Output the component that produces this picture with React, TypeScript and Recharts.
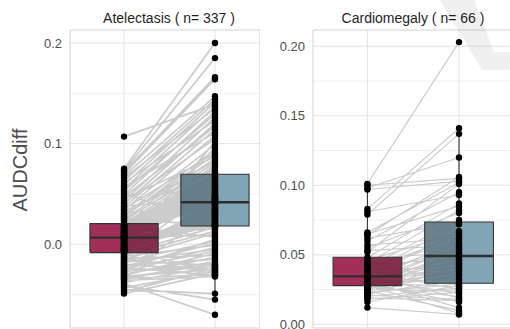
import React from 'react';
import { ComposedChart, Line, Area, Scatter, XAxis, YAxis, CartesianGrid, ReferenceArea } from 'recharts';

// ---------- data ----------
const atelBaseline = [
  0.107, 0.075, 0.073, 0.072, 0.070, 0.068, 0.066, 0.063, 0.061, 0.059, 0.057, 0.055, 0.053, 0.051, 0.049, 0.047, 0.045, 0.043, 0.041, 0.040, 0.038, 0.037, 0.035, 0.034, 0.033, 0.031, 0.030, 0.029, 0.028, 0.027, 0.026, 0.025, 0.024, 0.023, 0.021,
  0.020, 0.020, 0.019, 0.019, 0.018, 0.018, 0.017, 0.017, 0.016, 0.016, 0.015, 0.015, 0.014, 0.014, 0.013, 0.013, 0.012, 0.012, 0.012, 0.011, 0.011, 0.010, 0.010, 0.010, 0.009, 0.009, 0.009, 0.008, 0.008, 0.008, 0.007, 0.007, 0.007, 0.007, 0.006,
  0.006, 0.006, 0.005, 0.005, 0.004, 0.004, 0.003, 0.003, 0.002, 0.002, 0.001, 0.001, 0.000, 0.000, -0.001, -0.001, -0.002, -0.002, -0.003, -0.003, -0.003, -0.004, -0.004, -0.004, -0.005, -0.005, -0.005, -0.006, -0.006, -0.006, -0.007, -0.007, -0.007, -0.008, -0.008,
  -0.009, -0.010, -0.011, -0.012, -0.013, -0.014, -0.015, -0.016, -0.017, -0.018, -0.019, -0.020, -0.021, -0.022, -0.023, -0.024, -0.025, -0.026, -0.027, -0.028, -0.029, -0.030, -0.031, -0.032, -0.033, -0.034, -0.035, -0.036, -0.038, -0.039, -0.041, -0.043, -0.045, -0.047, -0.049,
];
const atelFollowUp = [
  0.139, 0.200, 0.185, 0.166, 0.164, 0.147, 0.135, 0.144, 0.123, 0.141, 0.111, 0.137, 0.129, 0.018, 0.132, 0.117, 0.087, 0.126, 0.105, 0.120, 0.045, 0.114, 0.091, 0.108, 0.073, 0.040, 0.083, 0.099, 0.089, 0.094, 0.018, 0.085, 0.077, 0.081, 0.075,
  0.070, 0.065, 0.068, 0.061, 0.069, 0.007, 0.067, 0.050, 0.063, 0.059, 0.066, 0.046, 0.054, 0.062, 0.015, 0.058, 0.064, 0.048, 0.052, 0.060, 0.079, 0.055, 0.042, 0.057, 0.047, 0.051, 0.044, 0.053, 0.043, 0.049, 0.009, 0.042, 0.047, 0.045, 0.043,
  0.071, 0.020, 0.024, 0.018, 0.022, 0.025, 0.019, 0.028, 0.020, 0.027, 0.023, 0.031, 0.096, 0.030, 0.021, 0.033, 0.027, 0.024, 0.036, 0.032, 0.019, 0.035, 0.029, 0.022, 0.038, -0.028, 0.036, 0.026, 0.039, 0.030, 0.102, 0.034, 0.040, 0.037, 0.041,
  0.017, 0.056, 0.013, -0.001, 0.044, -0.011, 0.011, -0.021, 0.003, -0.005, 0.046, -0.026, -0.015, 0.001, -0.031, -0.007, 0.005, -0.023, -0.019, -0.003, 0.033, -0.013, -0.009, -0.025, -0.020, -0.030, -0.017, -0.032, -0.022, -0.070, -0.055, -0.027, -0.049, -0.024, -0.029,
];
const cardBaseline = [
  0.101, 0.100, 0.098, 0.097, 0.083, 0.081, 0.079, 0.066, 0.065, 0.064, 0.062, 0.060, 0.057, 0.055, 0.053, 0.052,
  0.048, 0.047, 0.046, 0.045, 0.044, 0.043, 0.042, 0.041, 0.040, 0.039, 0.038, 0.037, 0.037, 0.036, 0.035, 0.035, 0.034,
  0.034, 0.033, 0.033, 0.032, 0.032, 0.031, 0.031, 0.030, 0.030, 0.030, 0.029, 0.029, 0.029, 0.028, 0.028, 0.028,
  0.027, 0.027, 0.026, 0.026, 0.025, 0.025, 0.024, 0.023, 0.023, 0.022, 0.021, 0.021, 0.020, 0.019, 0.018, 0.016, 0.012,
];
const cardFollowUp = [
  0.203, 0.105, 0.120, 0.103, 0.141, 0.093, 0.137, 0.102, 0.085, 0.106, 0.073, 0.095, 0.062, 0.080, 0.057, 0.101,
  0.087, 0.052, 0.066, 0.030, 0.082, 0.047, 0.059, 0.075, 0.040, 0.064, 0.025, 0.054, 0.072, 0.044, 0.019, 0.058, 0.036,
  0.067, 0.048, 0.022, 0.055, 0.041, 0.012, 0.061, 0.033, 0.050, 0.027, 0.046, 0.016, 0.056, 0.038, 0.008, 0.043,
  0.053, 0.020, 0.035, 0.051, 0.024, 0.039, 0.010, 0.045, 0.029, 0.032, 0.018, 0.042, 0.026, 0.017, 0.023, 0.028, 0.007,
];

// box statistics: [lower whisker, q1, median, q3, upper whisker]
const atelBoxBaseline = [-0.049, -0.0083, 0.0066, 0.0205, 0.075];
const atelBoxFollowUp = [-0.054, 0.0182, 0.0417, 0.0695, 0.147];
const cardBoxBaseline = [0.012, 0.0278, 0.0345, 0.0482, 0.101];
const cardBoxFollowUp = [0.007, 0.0295, 0.0491, 0.0736, 0.141];

const atelTicks = [0, 0.1, 0.2];
const atelMinor = [-0.05, 0.05, 0.15];
const cardTicks = [0, 0.05, 0.1, 0.15, 0.2];
const cardMinor = [0.025, 0.075, 0.125, 0.175];

const panelTitles = ['Atelectasis ( n= 337 )', 'Cardiomegaly ( n= 66 )'];
const yTitle = 'AUDCdiff';

// ---------- styling ----------
const FONT = '"Liberation Sans", Arial, Helvetica, sans-serif';
const BASE_X = 1;
const FOLLOW_X = 2;
const HALF = 0.375;
const RED_LIGHT = '#9c2451';
const RED_DARK = '#781c3e';
const BLUE_LIGHT = '#7aa0b0';
const BLUE_DARK = '#5a7682';

type PanelProps = {
  before: number[];
  after: number[];
  boxBase: number[];
  boxFollow: number[];
  ticks: number[];
  minor: number[];
  digits: number;
  xDomain: [number, number];
  yDomain: [number, number];
  width: number;
  yAxisWidth: number;
  pairWidth: number;
};

function Panel(p: PanelProps) {
  const pairs: { x: number; y: number | null }[] = [];
  p.before.forEach((b, i) => {
    pairs.push({ x: BASE_X, y: b });
    pairs.push({ x: FOLLOW_X, y: p.after[i] });
    pairs.push({ x: FOLLOW_X, y: null });
  });
  const points = [
    ...p.before.map((v) => ({ x: BASE_X, y: v })),
    ...p.after.map((v) => ({ x: FOLLOW_X, y: v })),
  ];
  const half = (c: number, from: number, to: number, s: number[]) => [
    { x: c + from, r: [s[1], s[3]] },
    { x: c + to, r: [s[1], s[3]] },
  ];
  const outline = (c: number, s: number[]) => [
    { x: c - HALF, y: s[1] },
    { x: c - HALF, y: s[3] },
    { x: c + HALF, y: s[3] },
    { x: c + HALF, y: s[1] },
    { x: c - HALF, y: s[1] },
    { x: c - HALF, y: null },
    { x: c, y: s[3] },
    { x: c, y: s[4] },
    { x: c, y: null },
    { x: c, y: s[1] },
    { x: c, y: s[0] },
    { x: c, y: null },
  ];
  const medians = [
    { x: BASE_X - HALF, y: p.boxBase[2] },
    { x: BASE_X + HALF, y: p.boxBase[2] },
    { x: BASE_X + HALF, y: null },
    { x: FOLLOW_X - HALF, y: p.boxFollow[2] },
    { x: FOLLOW_X + HALF, y: p.boxFollow[2] },
  ];

  return (
    <ComposedChart
      width={p.width}
      height={329}
      margin={{ top: 30, right: 0, bottom: 1, left: 0 }}
    >
      <CartesianGrid horizontalValues={p.minor} vertical={false} stroke="#f0f0f0" />
      <CartesianGrid horizontalValues={p.ticks} verticalValues={[BASE_X, FOLLOW_X]} stroke="#e3e3e3" />
      <XAxis
        type="number"
        dataKey="x"
        domain={p.xDomain}
        allowDataOverflow
        ticks={[BASE_X, FOLLOW_X]}
        hide
      />
      <YAxis
        type="number"
        dataKey="y"
        domain={p.yDomain}
        allowDataOverflow
        ticks={p.ticks}
        interval={0}
        width={p.yAxisWidth}
        axisLine={false}
        tickLine={false}
        tickFormatter={(v: number) => v.toFixed(p.digits)}
        tick={{ fill: '#4d4d4d', fontSize: 13, fontFamily: FONT }}
      />
      <ReferenceArea
        x1={p.xDomain[0]}
        x2={p.xDomain[1]}
        y1={p.yDomain[0]}
        y2={p.yDomain[1]}
        fill="none"
        stroke="#d2d2d2"
        strokeWidth={1}
      />
      <Line
        data={pairs}
        dataKey="y"
        stroke="#cbcbcb"
        strokeWidth={p.pairWidth}
        dot={false}
        activeDot={false}
        connectNulls={false}
        isAnimationActive={false}
        type="linear"
        zIndex={50}
      />
      <Area data={half(BASE_X, -HALF, 0, p.boxBase)} dataKey="r" type="linear" stroke="none" fill={RED_LIGHT} fillOpacity={0.95} isAnimationActive={false} dot={false} activeDot={false} zIndex={100} />
      <Area data={half(BASE_X, 0, HALF, p.boxBase)} dataKey="r" type="linear" stroke="none" fill={RED_DARK} fillOpacity={0.9} isAnimationActive={false} dot={false} activeDot={false} zIndex={100} />
      <Area data={half(FOLLOW_X, -HALF, 0, p.boxFollow)} dataKey="r" type="linear" stroke="none" fill={BLUE_DARK} fillOpacity={0.9} isAnimationActive={false} dot={false} activeDot={false} zIndex={100} />
      <Area data={half(FOLLOW_X, 0, HALF, p.boxFollow)} dataKey="r" type="linear" stroke="none" fill={BLUE_LIGHT} fillOpacity={0.95} isAnimationActive={false} dot={false} activeDot={false} zIndex={100} />
      <Line data={[...outline(BASE_X, p.boxBase), ...outline(FOLLOW_X, p.boxFollow)]} dataKey="y" type="linear" stroke="#333333" strokeWidth={1.1} dot={false} activeDot={false} connectNulls={false} isAnimationActive={false} zIndex={400} />
      <Line data={medians} dataKey="y" type="linear" stroke="#2e2e2e" strokeWidth={2.4} dot={false} activeDot={false} connectNulls={false} isAnimationActive={false} zIndex={400} />
      <Scatter
        data={points}
        isAnimationActive={false}
        zIndex={600}
        shape={(s: any) => <circle cx={s.cx} cy={s.cy} r={3.2} fill="#000" />}
      />
    </ComposedChart>
  );
}

export default function App() {
  return (
    <div
      style={{
        position: 'absolute',
        left: 0,
        top: 0,
        width: 510,
        height: 329,
        overflow: 'hidden',
        background: '#fff',
        fontFamily: FONT,
      }}
    >
      <div style={{ position: 'absolute', left: 0, top: 0 }}>
        <Panel
          before={atelBaseline}
          after={atelFollowUp}
          boxBase={atelBoxBaseline}
          boxFollow={atelBoxFollowUp}
          ticks={atelTicks}
          minor={atelMinor}
          digits={1}
          xDomain={[0.406, 2.495]}
          yDomain={[-0.0832, 0.2129]}
          width={260}
          yAxisWidth={70}
          pairWidth={1.7}
        />
      </div>
      <div style={{ position: 'absolute', left: 263, top: 0 }}>
        <Panel
          before={cardBaseline}
          after={cardFollowUp}
          boxBase={cardBoxBaseline}
          boxFollow={cardBoxFollowUp}
          ticks={cardTicks}
          minor={cardMinor}
          digits={2}
          xDomain={[0.406, 2.611]}
          yDomain={[-0.00266, 0.2117]}
          width={252}
          yAxisWidth={50}
          pairWidth={1.1}
        />
      </div>
      <div
        style={{
          position: 'absolute',
          left: 169,
          top: 18,
          transform: 'translate(-50%, -50%)',
          fontSize: 14,
          color: '#1f1f1f',
          whiteSpace: 'nowrap',
          lineHeight: 1,
        }}
      >
        {panelTitles[0]}
      </div>
      <div
        style={{
          position: 'absolute',
          left: 413,
          top: 18,
          transform: 'translate(-50%, -50%)',
          fontSize: 14,
          color: '#1f1f1f',
          whiteSpace: 'nowrap',
          lineHeight: 1,
        }}
      >
        {panelTitles[1]}
      </div>
      <div
        style={{
          position: 'absolute',
          left: 20,
          top: 170,
          transform: 'translate(-50%, -50%) rotate(-90deg)',
          fontSize: 20,
          color: '#4d4d4d',
          whiteSpace: 'nowrap',
          lineHeight: 1,
        }}
      >
        {yTitle}
      </div>
      <svg
        width={510}
        height={329}
        style={{ position: 'absolute', left: 0, top: 0, pointerEvents: 'none' }}
      >
        <polygon points="440,0 474,0 494,52 510,52 510,70 482,70" fill="#000" fillOpacity={0.06} />
      </svg>
    </div>
  );
}
